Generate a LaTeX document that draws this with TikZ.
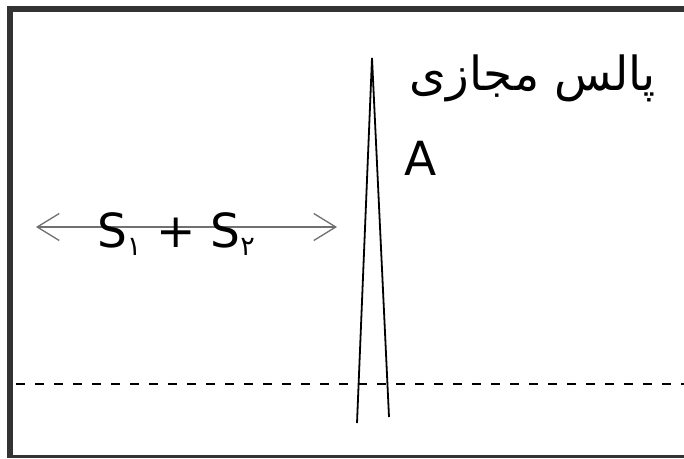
\documentclass[tikz,border=0pt]{standalone}
\usepackage{fontspec}
\setmainfont{DejaVu Sans}
\newfontfamily\arabicfont[Script=Arabic]{DejaVu Sans}
\TeXXeTstate=1
\usetikzlibrary{arrows.meta}
\definecolor{framec}{HTML}{333333}
\definecolor{arrowc}{HTML}{707070}
\tikzset{
  frameline/.style={draw=framec, line width=6pt},
  pulseline/.style={draw=black, line width=1.8pt},
  baseline dash/.style={draw=black, line width=1.8pt, dash pattern=on 9pt off 10pt},
  doublearrow/.style={draw=arrowc, line width=2pt, {Straight Barb[length=22pt,width=27pt,line width=1.3pt]}-{Straight Barb[length=22pt,width=27pt,line width=1.3pt]}},
  bigtext/.style={font=\fontsize{47}{50}\selectfont, inner sep=0pt},
}
\begin{document}
\begin{tikzpicture}[x=1pt,y=-1pt]
\path[use as bounding box] (0,0) rectangle (684,458);
\fill[white] (0,0) rectangle (684,458);
% frame (only the visible part of it)
\coordinate (ftr) at (684,9);
\coordinate (ftl) at (7,9);
\draw[frameline] (ftl) -- (ftr);
\coordinate (flt) at (10,6);
\coordinate (flb) at (10,458);
\draw[frameline] (flt) -- (flb);
\coordinate (fbl) at (7,456.5);
\coordinate (fbr) at (684,456.5);
\draw[draw=framec, line width=3pt] (fbl) -- (fbr);
% dashed base line
\coordinate (dl) at (16,384);
\coordinate (dr) at (684,384);
\draw[baseline dash] (dl) -- (dr);
% virtual pulse
\coordinate (apex) at (372,58);
\coordinate (legl) at (357,423);
\coordinate (legr) at (389,417);
\draw[pulseline] (legl) -- (apex) -- (legr);
% labels
\node[bigtext, anchor=base east] (title) at (656,90) {\arabicfont\beginR پالس مجازی\endR};
\node[bigtext, anchor=base west] (A) at (404,175) {A};
% double arrow
\coordinate (al) at (36,227);
\coordinate (ar) at (337,227);
\draw[doublearrow] (al) -- (ar);
\node[bigtext, anchor=base] (sum) at (176,247) {S{\arabicfont\fontsize{27}{27}\selectfont\raisebox{-8pt}{۱}} + S{\arabicfont\fontsize{27}{27}\selectfont\raisebox{-8pt}{۲}}};
\end{tikzpicture}
\end{document}
